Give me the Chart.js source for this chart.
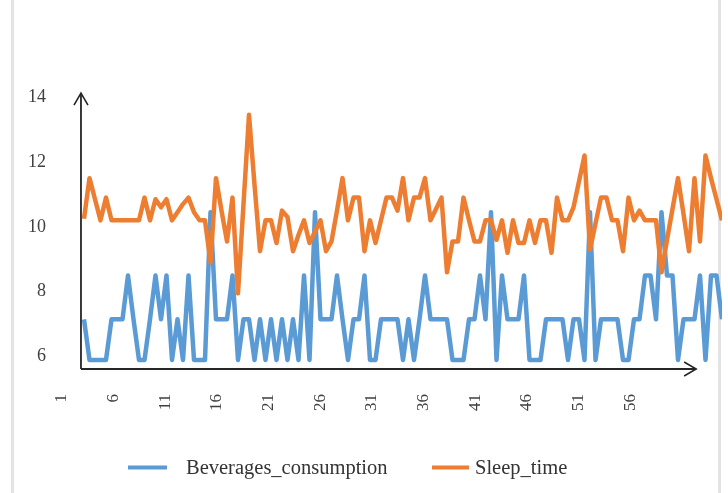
<!DOCTYPE html>
<html>
<head>
<meta charset="utf-8">
<script src="https://cdn.jsdelivr.net/npm/chart.js@4.4.1/dist/chart.umd.min.js"></script>
<style>
  html, body { margin: 0; padding: 0; background: #ffffff; }
  #wrap { width: 728px; height: 493px; position: relative; }
</style>
</head>
<body>
<div id="wrap"><canvas id="c" width="728" height="493"></canvas></div>
<script>
// Observation-by-observation readings
const beverages = [
  7.15, 5.9, 5.9, 5.9, 5.9, 7.15, 7.15, 7.15, 8.5, 7.15,
  5.9, 5.9, 7.15, 8.5, 7.15, 8.5, 5.9, 7.15, 5.9, 8.5,
  5.9, 5.9, 5.9, 10.45, 7.15, 7.15, 7.15, 8.5, 5.9, 7.15,
  7.15, 5.9, 7.15, 5.9, 7.15, 5.9, 7.15, 5.9, 7.15, 5.9,
  8.5, 5.9, 10.45, 7.15, 7.15, 7.15, 8.5, 7.15, 5.9, 7.15,
  7.15, 8.5, 5.9, 5.9, 7.15, 7.15, 7.15, 7.15, 5.9, 7.15,
  5.9, 7.15, 8.5, 7.15, 7.15, 7.15, 7.15, 5.9, 5.9, 5.9,
  7.15, 7.15, 8.5, 7.15, 10.45, 5.9, 8.5, 7.15, 7.15, 7.15,
  8.5, 5.9, 5.9, 5.9, 7.15, 7.15, 7.15, 7.15, 5.9, 7.15,
  7.15, 5.9, 10.45, 5.9, 7.15, 7.15, 7.15, 7.15, 5.9, 5.9,
  7.15, 7.15, 8.5, 8.5, 7.15, 10.45, 8.5, 8.5, 5.9, 7.15,
  7.15, 7.15, 8.5, 5.9, 8.5, 8.5, 7.15
];
const sleepTime = [
  10.25, 11.5, 10.85, 10.2, 10.9, 10.2, 10.2, 10.2, 10.2, 10.2,
  10.2, 10.9, 10.2, 10.85, 10.6, 10.85, 10.2, 10.45, 10.7, 10.9,
  10.45, 10.2, 10.2, 8.9, 11.5, 10.5, 9.55, 10.9, 7.95, 10.7,
  13.45, 11.3, 9.25, 10.2, 10.2, 9.5, 10.5, 10.3, 9.25, 9.75,
  10.2, 9.5, 9.85, 10.2, 9.25, 9.55, 10.5, 11.5, 10.2, 10.9,
  10.9, 9.25, 10.2, 9.5, 10.2, 10.9, 10.9, 10.5, 11.5, 10.2,
  10.9, 10.9, 11.5, 10.2, 10.55, 10.9, 8.6, 9.55, 9.55, 10.9,
  10.2, 9.55, 9.55, 10.2, 10.2, 9.6, 10.2, 9.2, 10.2, 9.5,
  9.5, 10.2, 9.5, 10.2, 10.2, 9.2, 10.9, 10.2, 10.2, 10.6,
  11.4, 12.2, 9.3, 10.1, 10.9, 10.9, 10.2, 10.2, 9.25, 10.9,
  10.2, 10.5, 10.2, 10.2, 10.2, 8.6, 9.6, 10.55, 11.5, 10.4,
  9.25, 11.5, 9.55, 12.2, 11.5, 10.85, 10.2
];
const seriesNames = ['Beverages_consumption', 'Sleep_time'];
const seriesColors = ['#5B9BD5', '#ED7D31'];
const xTickValues = [1, 6, 11, 16, 21, 26, 31, 36, 41, 46, 51, 56];
const xTickLabels = ['1', '6', '11', '16', '21', '26', '31', '36', '41', '46', '51', '56'];
const yTickValues = [6, 8, 10, 12, 14];

const toPoints = arr => arr.map((v, i) => ({ x: i + 1, y: v }));

// Light page frame drawn behind everything
const framePlugin = {
  id: 'frame',
  beforeDraw(chart) {
    const ctx = chart.ctx;
    ctx.save();
    ctx.fillStyle = '#ffffff';
    ctx.fillRect(0, 0, chart.width, chart.height);
    ctx.strokeStyle = '#e3e3e3';
    ctx.lineWidth = 3;
    ctx.beginPath();
    ctx.moveTo(12.5, 0); ctx.lineTo(12.5, chart.height);
    ctx.moveTo(719.5, 0); ctx.lineTo(719.5, chart.height);
    ctx.stroke();
    ctx.restore();
  }
};

// Arrow-tipped axis lines
const arrowAxesPlugin = {
  id: 'arrowAxes',
  afterDatasetsDraw(chart) {
    const xs = chart.scales.x, ys = chart.scales.y, ctx = chart.ctx;
    const ox = xs.getPixelForValue(0.45);
    const oy = ys.getPixelForValue(ys.min);
    const topY = ys.getPixelForValue(14.12);
    const endX = xs.getPixelForValue(112.3);
    ctx.save();
    ctx.strokeStyle = '#262626';
    ctx.lineWidth = 1.8;
    ctx.lineJoin = 'miter';
    ctx.beginPath();
    ctx.moveTo(ox, oy); ctx.lineTo(ox, topY);
    ctx.moveTo(ox, oy); ctx.lineTo(endX, oy);
    ctx.stroke();
    ctx.lineWidth = 1.6;
    ctx.beginPath();
    ctx.moveTo(ox - 7, topY + 12); ctx.lineTo(ox, topY); ctx.lineTo(ox + 7, topY + 12);
    ctx.moveTo(endX - 12, oy - 7); ctx.lineTo(endX, oy); ctx.lineTo(endX - 12, oy + 7);
    ctx.stroke();
    ctx.restore();
  }
};

// Legend row beneath the plot
const legendRowPlugin = {
  id: 'legendRow',
  afterDraw(chart) {
    const ctx = chart.ctx;
    const items = [
      { sx: 128, ex: 167, tx: 186 },
      { sx: 432, ex: 469, tx: 475 }
    ];
    const y = 467.5;
    ctx.save();
    ctx.font = '20.5px "Liberation Serif"';
    ctx.textBaseline = 'middle';
    ctx.fillStyle = '#333333';
    chart.data.datasets.forEach((ds, i) => {
      const it = items[i];
      ctx.strokeStyle = ds.borderColor;
      ctx.lineWidth = 4;
      ctx.beginPath();
      ctx.moveTo(it.sx, y); ctx.lineTo(it.ex, y);
      ctx.stroke();
      ctx.fillText(ds.label, it.tx, y + 1);
    });
    ctx.restore();
  }
};

new Chart(document.getElementById('c'), {
  type: 'line',
  data: {
    datasets: [
      {
        label: seriesNames[0],
        data: toPoints(beverages),
        borderColor: seriesColors[0],
        backgroundColor: seriesColors[0],
        borderWidth: 4.5,
        pointRadius: 0,
        tension: 0,
        borderJoinStyle: 'round',
        borderCapStyle: 'butt',
        order: 1
      },
      {
        label: seriesNames[1],
        data: toPoints(sleepTime),
        borderColor: seriesColors[1],
        backgroundColor: seriesColors[1],
        borderWidth: 4.5,
        pointRadius: 0,
        tension: 0,
        borderJoinStyle: 'round',
        borderCapStyle: 'butt',
        order: 0
      }
    ]
  },
  options: {
    responsive: false,
    animation: false,
    events: [],
    layout: { padding: { top: 97, left: 0, right: 6, bottom: 64 } },
    plugins: {
      legend: { display: false },
      tooltip: { enabled: false },
      title: { display: false }
    },
    scales: {
      x: {
        type: 'linear',
        display: false,
        min: -3,
        max: 117
      },
      xl: {
        type: 'linear',
        position: 'bottom',
        min: 1,
        max: 64.9,
        grid: { display: false, drawTicks: false },
        border: { display: false },
        afterBuildTicks: s => { s.ticks = xTickValues.map(v => ({ value: v })); },
        afterFit: s => { s.height = 60; },
        ticks: {
          autoSkip: false,
          minRotation: 90,
          maxRotation: 90,
          padding: 25,
          color: '#404040',
          font: { family: 'Liberation Serif', size: 17 },
          callback: (v, i) => xTickLabels[i]
        }
      },
      y: {
        type: 'linear',
        position: 'left',
        min: 5.62,
        max: 14,
        grid: { display: false, drawTicks: false },
        border: { display: false },
        afterBuildTicks: s => { s.ticks = yTickValues.map(v => ({ value: v })); },
        afterFit: s => { s.width = 62; },
        ticks: {
          padding: 16,
          color: '#404040',
          font: { family: 'Liberation Serif', size: 18 },
          callback: v => String(v)
        }
      }
    }
  },
  plugins: [framePlugin, arrowAxesPlugin, legendRowPlugin]
});
</script>
</body>
</html>
